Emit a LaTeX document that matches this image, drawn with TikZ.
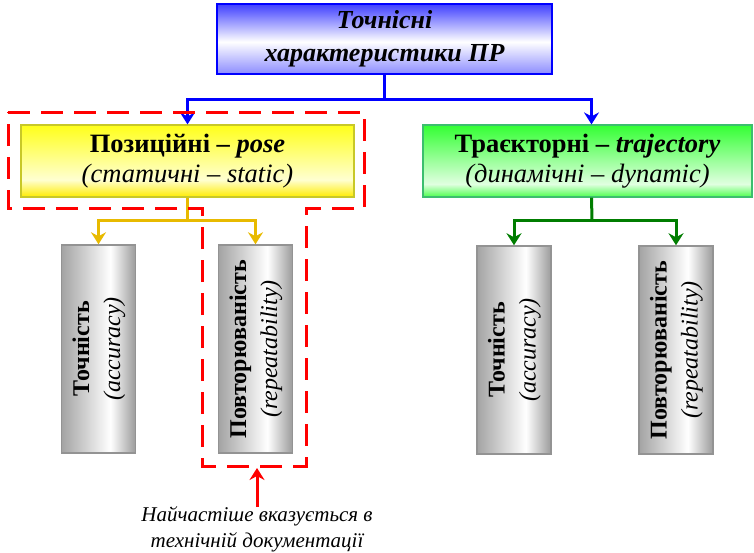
\documentclass[tikz,border=0pt]{standalone}
\usepackage{fontspec}
\setmainfont{Liberation Serif}
\usetikzlibrary{arrows.meta}
\definecolor{cblue}{RGB}{0,0,255}
\definecolor{cgold}{RGB}{232,186,0}
\definecolor{cgreen}{RGB}{0,125,0}
\definecolor{cred}{RGB}{255,0,0}
\definecolor{yborder}{RGB}{200,200,40}
\definecolor{gborder}{RGB}{60,190,110}
\pgfdeclarehorizontalshading{grayshade}{100bp}{color(0bp)=(gray!72); color(25bp)=(gray!72); color(58bp)=(white); color(75bp)=(gray!78); color(100bp)=(gray!78)}
\pgfdeclareverticalshading{yellowshade}{100bp}{color(0bp)=(yellow!85!orange); color(25bp)=(yellow!85!orange); color(37bp)=(yellow!18); color(75bp)=(yellow!90!white); color(100bp)=(yellow!90!white)}
\pgfdeclareverticalshading{greenshade}{100bp}{color(0bp)=(green!70); color(25bp)=(green!70); color(34bp)=(green!12); color(75bp)=(green!80); color(100bp)=(green!80)}
\pgfdeclareverticalshading{blueshade}{100bp}{color(0bp)=(blue!45); color(25bp)=(blue!45); color(48bp)=(white); color(75bp)=(blue!75); color(100bp)=(blue!75)}
\tikzset{
  topbox/.style={draw=cblue, line width=1.5pt, shading=blueshade, minimum width=335pt, minimum height=70pt, inner sep=0pt, align=center, font=\fontsize{26}{33}\selectfont\bfseries\itshape},
  ybox/.style={draw=yborder, line width=1.2pt, shading=yellowshade, minimum width=333pt, minimum height=72pt, inner sep=0pt, align=center, font=\fontsize{26.5}{30}\selectfont},
  gbox/.style={draw=gborder, line width=1.2pt, shading=greenshade, minimum width=329pt, minimum height=72pt, inner sep=0pt, align=center, font=\fontsize{26.5}{30}\selectfont},
  graybox/.style={draw=gray!85, line width=1.5pt, shading=grayshade, minimum width=74pt, minimum height=208pt, inner sep=0pt, font=\fontsize{24}{31}\selectfont},
  conn/.style={line width=3pt},
  arr/.style={line width=3pt, -{Stealth[length=12pt,width=15pt,inset=4pt]}},
  reddash/.style={draw=cred, line width=3pt, dash pattern=on 22pt off 11pt},
  note/.style={align=center, font=\fontsize{21}{26}\selectfont\itshape, inner sep=0pt}
}
\newcommand{\vtext}[2]{\rotatebox{90}{\begin{tabular}{@{}c@{}}\textbf{#1}\\\textit{(#2)}\end{tabular}}}
\begin{document}
\begin{tikzpicture}[x=1pt,y=-1pt]
\useasboundingbox (0,0) rectangle (754,552);
% nodes
\node[topbox] (top) at (384.5,39) {Точнісні\\характеристики ПР};
\node[ybox] (pose) at (187.5,161) {\textbf{Позиційні – \textit{pose}}\\\textit{(статичні – static)}};
\node[gbox] (traj) at (587.5,161) {\textbf{Траєкторні – \textit{trajectory}}\\\textit{(динамічні – dynamic)}};
\node[graybox] (pa) at (98.5,349) {\vtext{Точність}{accuracy}};
\node[graybox] (pr) at (255.5,349) {\vtext{Повторюваність}{repeatability}};
\node[graybox] (ta) at (514,350) {\vtext{Точність}{accuracy}};
\node[graybox] (tr) at (676,350) {\vtext{Повторюваність}{repeatability}};
\node[note] (nt) at (257,529) {Найчастіше вказується в\\технічній документації};
% blue connectors
\coordinate (bj) at (384.5,99);
\draw[conn, cblue] (top.south) -- (bj);
\draw[arr, cblue] (bj) -| (pose.north);
\draw[arr, cblue] (bj) -| ([xshift=4pt]traj.north);
% yellow connectors
\coordinate (yj) at (187.5,220);
\draw[conn, cgold] (pose.south) -- (yj);
\draw[arr, cgold] (yj) -| (pa.north);
\draw[arr, cgold] (yj) -| (pr.north);
% green connectors
\coordinate (gj) at (592,220);
\draw[conn, cgreen] ([xshift=4pt]traj.south) -- (gj);
\draw[arr, cgreen] (gj) -| (ta.north);
\draw[arr, cgreen] (gj) -| (tr.north);
% red dashed outline
\draw[reddash] (8,112) -- (364,112) -- (364,208) -- (306,208) -- (306,466) -- (202,466) -- (202,208) -- (8,208) -- cycle;
\coordinate (db) at (257,468);
\draw[arr, cred] ([yshift=-1pt]nt.north) -- (db);
\end{tikzpicture}
\end{document}
